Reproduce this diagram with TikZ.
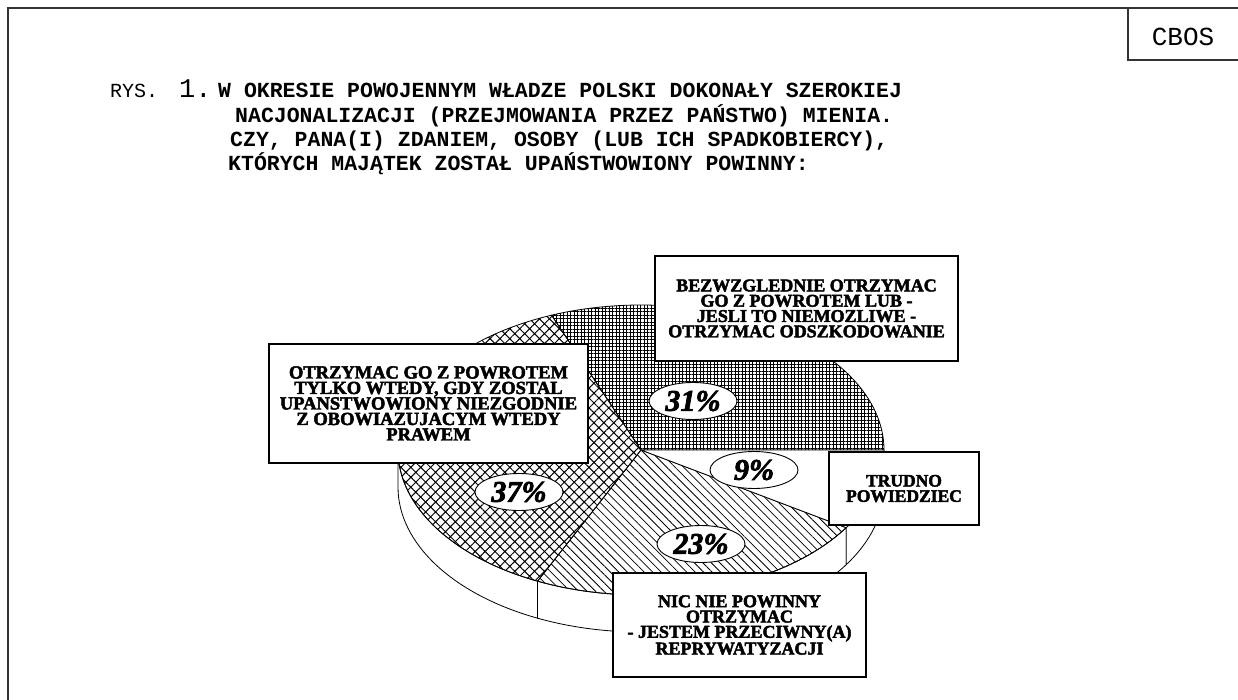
\documentclass[tikz,border=0pt]{standalone}
\usepackage{fontspec}
\usetikzlibrary{patterns.meta,shapes.geometric}
\newfontfamily\monofont{Liberation Mono}
\newfontfamily\boxfont[BoldFeatures={FakeBold=2.5},BoldItalicFeatures={FakeBold=2.5}]{Liberation Serif}
\begin{document}
\begin{tikzpicture}[x=1pt,y=-1pt,
  frame/.style={draw=black!80, line width=1.2pt},
  lbox/.style={draw, line width=1.2pt, fill=white, inner sep=0pt, align=center,
    font=\boxfont\bfseries\fontsize{18}{15.3}\selectfont},
  pct/.style={ellipse, draw, line width=0.9pt, fill=white, inner sep=0pt,
    minimum width=88pt, minimum height=37pt,
    font=\boxfont\bfseries\itshape\fontsize{30}{30}\selectfont},
  titleline/.style={anchor=base west, inner sep=0pt, font=\monofont\bfseries\fontsize{21.5}{26}\selectfont},
  rim/.style={draw, line width=0.8pt},
  side/.style={draw, line width=0.8pt, fill=white}]
\useasboundingbox (0,0) rectangle (1238,700);
\fill[white] (0,0) rectangle (1238,700);
% page frame and CBOS box
\draw[frame] (8,700) -- (8,8) -- (1238,8);
\draw[frame] (1128,8) -- (1128,60) -- (1238,60);
\node[inner sep=0pt, font=\monofont\fontsize{26}{26}\selectfont] (cbos) at (1183,37) {CBOS};
% title
\node[anchor=base west, inner sep=0pt, font=\monofont\fontsize{20}{20}\selectfont] (rys) at (110,98) {RYS.};
\node[anchor=base west, inner sep=0pt, font=\monofont\fontsize{27}{27}\selectfont] (rysn) at (179,98) {1.};
\node[titleline] (t1) at (218,98) {W OKRESIE POWOJENNYM WŁADZE POLSKI DOKONAŁY SZEROKIEJ};
\node[titleline] (t2) at (235,123) {NACJONALIZACJI (PRZEJMOWANIA PRZEZ PAŃSTWO) MIENIA.};
\node[titleline] (t3) at (230,147) {CZY, PANA(I) ZDANIEM, OSOBY (LUB ICH SPADKOBIERCY),};
\node[titleline] (t4) at (228,171) {KTÓRYCH MAJĄTEK ZOSTAŁ UPAŃSTWOWIONY POWINNY:};
% pie
\coordinate (pc) at (641,450);
% side walls
\path[side] (pc) ++(-180:243 and 145) arc[start angle=-180,end angle=-244.8,x radius=243,y radius=145]
  -- ++(0,37) arc[start angle=-244.8,end angle=-180,x radius=243,y radius=145] -- cycle;
\path[side] (pc) ++(-244.8:243 and 145) arc[start angle=-244.8,end angle=-327.6,x radius=243,y radius=145]
  -- ++(0,37) arc[start angle=-327.6,end angle=-244.8,x radius=243,y radius=145] -- cycle;
\path[side] (pc) ++(-327.6:243 and 145) arc[start angle=-327.6,end angle=-360,x radius=243,y radius=145]
  -- ++(0,37) arc[start angle=-360,end angle=-327.6,x radius=243,y radius=145] -- cycle;
% top slices
\path[rim, pattern={Hatch[angle=0,distance=3.5pt,line width=0.55pt]}]
  (pc) -- ++(0:243 and 145) arc[start angle=0,end angle=-111.6,x radius=243,y radius=145] -- cycle;
\path[rim, pattern={Hatch[angle=45,distance=7pt,line width=1pt]}]
  (pc) -- ++(-111.6:243 and 145) arc[start angle=-111.6,end angle=-244.8,x radius=243,y radius=145] -- cycle;
\path[rim, pattern={Lines[angle=-45,distance=6pt,line width=0.8pt]}]
  (pc) -- ++(-244.8:243 and 145) arc[start angle=-244.8,end angle=-327.6,x radius=243,y radius=145] -- cycle;
\path[rim, fill=white]
  (pc) -- ++(-327.6:243 and 145) arc[start angle=-327.6,end angle=-360,x radius=243,y radius=145] -- cycle;
% percentage labels
\node[pct] (p31) at (693,401) {31\%};
\node[pct] (p9) at (754,470) {9\%};
\node[pct] (p37) at (519,492) {37\%};
\node[pct] (p23) at (701,544) {23\%};
% label boxes
\node[lbox, minimum width=303pt, minimum height=105pt] (bez) at (806.5,308.5)
  {BEZWZGLEDNIE OTRZYMAC\\GO Z POWROTEM LUB -\\JESLI TO NIEMOZLIWE -\\OTRZYMAC ODSZKODOWANIE};
\node[lbox, minimum width=319pt, minimum height=119pt, font=\boxfont\bfseries\fontsize{18.5}{15.5}\selectfont] (otrz) at (428.5,403.5)
  {OTRZYMAC GO Z POWROTEM\\TYLKO WTEDY, GDY ZOSTAL\\UPANSTWOWIONY NIEZGODNIE\\Z OBOWIAZUJACYM WTEDY\\PRAWEM};
\node[lbox, minimum width=150pt, minimum height=73pt, font=\boxfont\bfseries\fontsize{17.5}{15.3}\selectfont] (trud) at (904,488.5)
  {TRUDNO\\POWIEDZIEC};
\node[lbox, minimum width=253pt, minimum height=104pt] (nic) at (739.5,625)
  {NIC NIE POWINNY\\OTRZYMAC\\- JESTEM PRZECIWNY(A)\\REPRYWATYZACJI};
\end{tikzpicture}
\end{document}
